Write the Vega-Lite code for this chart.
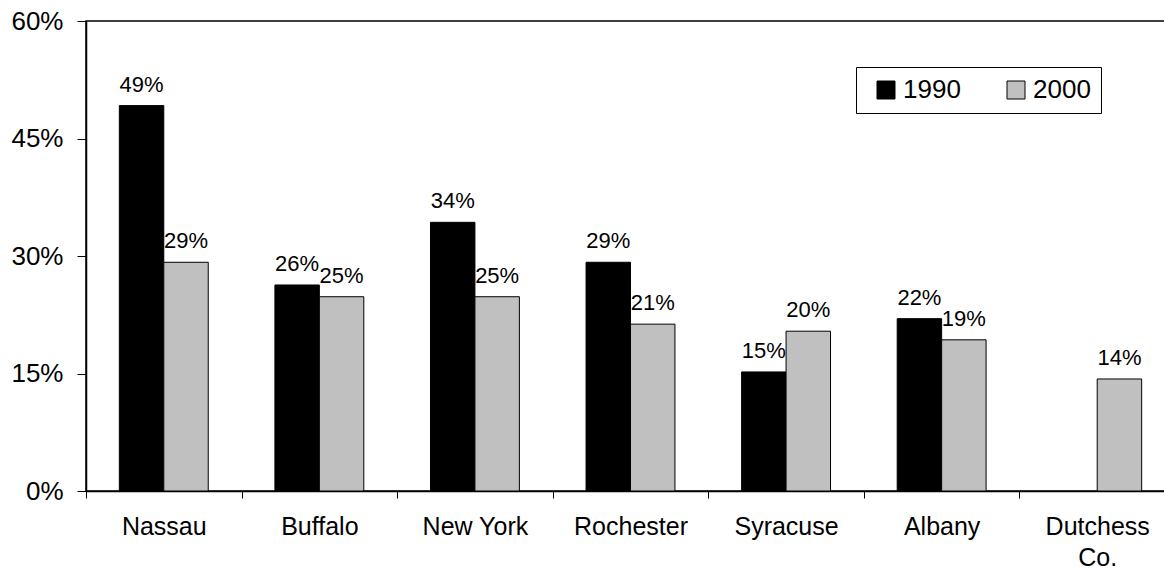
{
  "$schema": "https://vega.github.io/schema/vega-lite/v6.json",
  "autosize": "none",
  "padding": {"left": 86, "top": 21, "right": 0, "bottom": 81},
  "width": 1089,
  "height": 470,
  "background": "white",
  "config": {
    "font": "Liberation Sans",
    "view": {"stroke": "black", "strokeWidth": 1.5},
    "axis": {
      "domainColor": "black",
      "domainWidth": 1.5,
      "tickColor": "black",
      "tickWidth": 1,
      "labelColor": "black",
      "labelFont": "Liberation Sans",
      "grid": false,
      "title": null
    },
    "legend": {
      "strokeColor": "black",
      "labelFont": "Liberation Sans"
    }
  },
  "data": {
    "values": [
      {"city": "Nassau", "year": "1990", "share": 0.492},
      {"city": "Nassau", "year": "2000", "share": 0.292},
      {"city": "Buffalo", "year": "1990", "share": 0.263},
      {"city": "Buffalo", "year": "2000", "share": 0.248},
      {"city": "New York", "year": "1990", "share": 0.343},
      {"city": "New York", "year": "2000", "share": 0.248},
      {"city": "Rochester", "year": "1990", "share": 0.292},
      {"city": "Rochester", "year": "2000", "share": 0.213},
      {"city": "Syracuse", "year": "1990", "share": 0.152},
      {"city": "Syracuse", "year": "2000", "share": 0.204},
      {"city": "Albany", "year": "1990", "share": 0.22},
      {"city": "Albany", "year": "2000", "share": 0.193},
      {"city": "Dutchess Co.", "year": "2000", "share": 0.143}
    ]
  },
  "encoding": {
    "x": {
      "field": "city",
      "type": "nominal",
      "sort": ["Nassau", "Buffalo", "New York", "Rochester", "Syracuse", "Albany", "Dutchess Co."],
      "scale": {"paddingInner": 0, "paddingOuter": 0},
      "axis": {
        "labelAngle": 0,
        "labelFontSize": 25,
        "labelPadding": 16,
        "labelBaseline": "top",
        "labelLineHeight": 31,
        "tickBand": "extent",
        "tickSize": 7,
        "labelExpr": "datum.label == 'Dutchess Co.' ? ['Dutchess', 'Co.'] : datum.label"
      }
    },
    "xOffset": {
      "field": "year",
      "type": "nominal",
      "scale": {"paddingInner": 0, "paddingOuter": 0.75}
    },
    "y": {
      "field": "share",
      "type": "quantitative",
      "scale": {"domain": [0, 0.6], "nice": false},
      "axis": {
        "values": [0, 0.15, 0.3, 0.45, 0.6],
        "format": ".0%",
        "labelFontSize": 26,
        "labelPadding": 14,
        "tickSize": 9
      }
    }
  },
  "layer": [
    {
      "mark": {"type": "bar", "stroke": "black", "strokeWidth": 1},
      "encoding": {
        "fill": {
          "field": "year",
          "type": "nominal",
          "scale": {"domain": ["1990", "2000"], "range": ["#000000", "#c0c0c0"]},
          "legend": {
            "title": null,
            "orient": "none",
            "legendX": 770,
            "legendY": 46,
            "direction": "horizontal",
            "symbolType": "square",
            "symbolSize": 324,
            "symbolStrokeColor": "black",
            "symbolStrokeWidth": 1,
            "symbolOffset": 7,
            "labelFontSize": 26,
            "labelOffset": 4,
            "columnPadding": 35,
            "padding": 10,
            "strokeColor": "black"
          }
        }
      }
    },
    {
      "mark": {"type": "text", "baseline": "alphabetic", "dy": -14, "fontSize": 22, "color": "black"},
      "encoding": {
        "text": {"field": "share", "type": "quantitative", "format": ".0%"}
      }
    }
  ]
}
